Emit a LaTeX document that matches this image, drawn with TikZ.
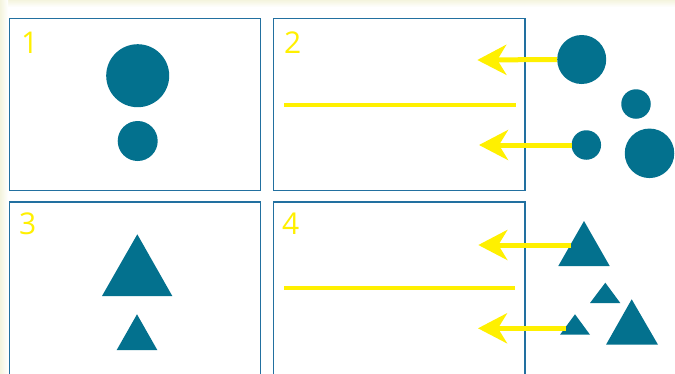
\documentclass[tikz,border=0pt]{standalone}
\usepackage{fontspec}
\setmainfont{Open Sans}
\usetikzlibrary{arrows.meta}
\definecolor{teal}{HTML}{03718E}
\definecolor{frame}{HTML}{2270A0}
\definecolor{yel}{HTML}{FFF000}
\definecolor{cream}{HTML}{F4F4DE}
\tikzset{
  panel/.style={draw=frame, line width=1.3pt, fill=white},
  dot/.style={circle, fill=teal, inner sep=0pt, outer sep=0pt},
  tri/.style={fill=teal},
  num/.style={text=yel, anchor=base west, inner sep=0pt, font=\fontsize{30}{30}\selectfont},
  arr/.style={draw=yel, line width=5pt, -{Stealth[length=29pt,width=30pt,inset=9pt]}},
  divider/.style={draw=yel, line width=4pt}
}
\begin{document}
\begin{tikzpicture}[x=1pt,y=-1pt]
\useasboundingbox (0,0) rectangle (675,373);
\clip (0,0) rectangle (675,373);
\fill[white] (0,0) rectangle (675,373);
\shade[top color=cream, bottom color=white] (0,0) rectangle (675,7);
\shade[left color=cream, right color=white] (0,0) rectangle (8,373);
% panels
\draw[panel] (9.3,18.3) rectangle (260.5,190.5);
\draw[panel] (273.5,18.3) rectangle (525,190.5);
\draw[panel] (9.3,202) rectangle (260.5,390);
\draw[panel] (273.5,202) rectangle (525,390);
% labels
\node[num] (n1) at (21,53.5) {1};
\node[num] (n2) at (284,53.5) {2};
\node[num] (n3) at (19,234.5) {3};
\node[num] (n4) at (282,234.5) {4};
% panel 1 circles
\node[dot, minimum size=63pt] (a1) at (137.7,75.7) {};
\node[dot, minimum size=40pt] (a2) at (137.7,141) {};
% panel 2 divider
\coordinate (d2a) at (284,105);
\coordinate (d2b) at (515.7,105);
\draw[divider] (d2a) -- (d2b);
% right circles
\node[dot, minimum size=49pt] (c1) at (581.7,59.5) {};
\node[dot, minimum size=29.5pt] (c2) at (636,104) {};
\node[dot, minimum size=29.5pt] (c3) at (586.3,145) {};
\node[dot, minimum size=49.5pt] (c4) at (649.5,153.3) {};
\coordinate (e1) at (477.3,60);
\coordinate (e2) at (479,145);
\draw[arr] (c1.west) -- (e1);
\draw[arr] (c3.west) -- (e2);
% panel 3 triangles
\fill[tri] (137.3,234.3) -- (172.3,296) -- (102,296) -- cycle;
\fill[tri] (137,314.3) -- (157.3,350) -- (116.7,350) -- cycle;
% panel 4 divider
\coordinate (d4a) at (284,288.3);
\coordinate (d4b) at (515,288.3);
\draw[divider] (d4a) -- (d4b);
% right triangles
\fill[tri] (584,221) -- (609.7,266) -- (558.3,266) -- cycle;
\fill[tri] (605.3,282.7) -- (620.3,303) -- (590,303) -- cycle;
\fill[tri] (575,314.3) -- (590,334.7) -- (560,334.7) -- cycle;
\fill[tri] (631.7,299.3) -- (658,344.7) -- (606,344.7) -- cycle;
\coordinate (t1) at (571,245);
\coordinate (t3) at (566,328.3);
\coordinate (f1) at (478.3,245);
\coordinate (f2) at (478,328.3);
\draw[arr] (t1) -- (f1);
\draw[arr] (t3) -- (f2);
\end{tikzpicture}
\end{document}
